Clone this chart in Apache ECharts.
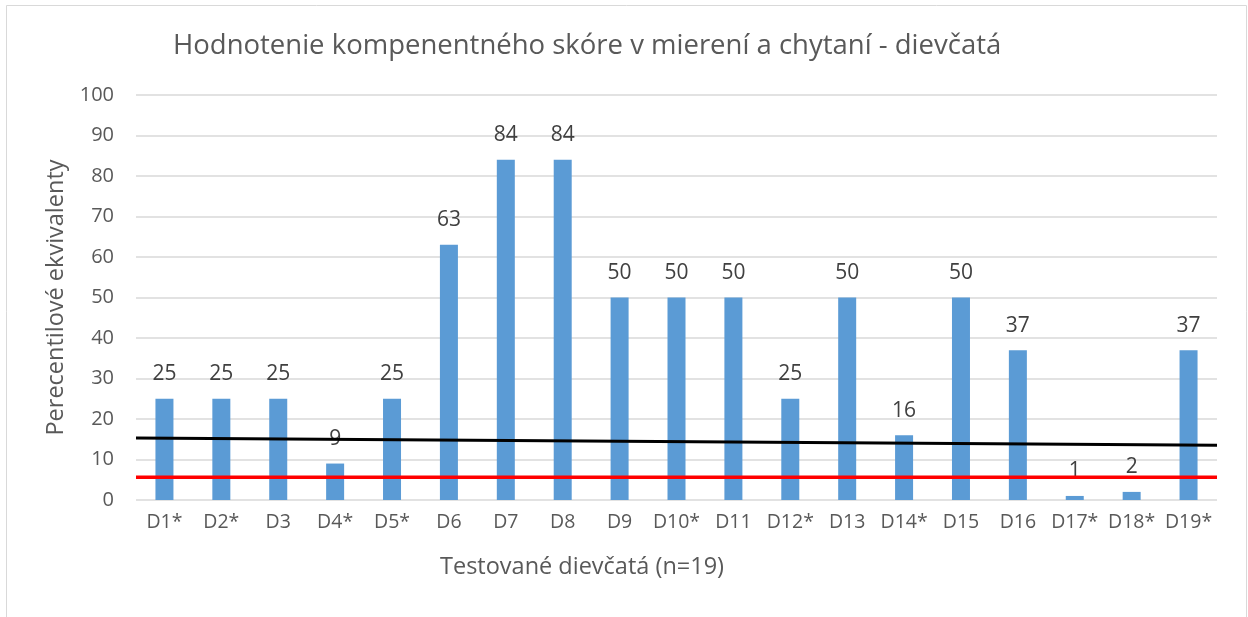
<!DOCTYPE html>
<html>
<head>
<meta charset="utf-8">
<script src="https://cdn.jsdelivr.net/npm/echarts@6/dist/echarts.min.js"></script>
<style>
  html, body { margin: 0; padding: 0; background: #fff; }
  #chart { width: 1248px; height: 617px; }
</style>
</head>
<body>
<div id="chart"></div>
<script>
// kategorie a hodnoty
const categories = ['D1*', 'D2*', 'D3', 'D4*', 'D5*', 'D6', 'D7', 'D8', 'D9', 'D10*',
  'D11', 'D12*', 'D13', 'D14*', 'D15', 'D16', 'D17*', 'D18*', 'D19*'];
const scores = [25, 25, 25, 9, 25, 63, 84, 84, 50, 50, 50, 25, 50, 16, 50, 37, 1, 2, 37];
// ciary (cierna a cervena)
const lineX = [0, 19];
const blackLine = [15.3, 13.5];
const redLine = [5.6, 5.6];

const font = '"Open Sans", "Noto Sans", sans-serif';

const option = {
  animation: false,
  backgroundColor: '#fff',
  title: {
    text: 'Hodnotenie kompenentného skóre v mierení a chytaní - dievčatá',
    left: 168,
    top: 27,
    textStyle: { fontFamily: font, fontSize: 27.5, fontWeight: 'normal', color: '#595959' }
  },
  grid: { left: 136, right: 31, top: 95, bottom: 117 },
  graphic: [
    {
      type: 'rect',
      shape: { x: 6.5, y: 5.5, width: 1240, height: 620 },
      style: { fill: 'none', stroke: '#d9d9d9', lineWidth: 1 },
      silent: true
    },
    {
      type: 'text',
      left: 440,
      top: 555,
      style: { text: 'Testované dievčatá (n=19)', font: '23.5px ' + font, fill: '#595959' }
    }
  ],
  xAxis: [
    {
      type: 'category',
      data: categories,
      axisLine: { show: false },
      axisTick: { show: false },
      axisLabel: { interval: 0, fontFamily: font, fontSize: 19.5, color: '#595959', margin: 12 }
    },
    {
      type: 'value',
      min: 0,
      max: 19,
      show: false
    }
  ],
  yAxis: {
    type: 'value',
    min: 0,
    max: 100,
    interval: 10,
    name: 'Perecentilové ekvivalenty',
    nameLocation: 'middle',
    nameGap: 62,
    nameTextStyle: { fontFamily: font, fontSize: 23.5, color: '#595959' },
    axisLine: { show: false },
    axisTick: { show: false },
    axisLabel: { fontFamily: font, fontSize: 20, color: '#595959', margin: 22 },
    splitLine: { lineStyle: { color: '#d9d9d9', width: 1.5 } }
  },
  series: [
    {
      type: 'bar',
      data: scores,
      barWidth: 18,
      itemStyle: { color: '#5b9bd5' },
      label: {
        show: true,
        position: 'top',
        distance: 14,
        fontFamily: font,
        fontSize: 21,
        color: '#404040'
      },
      z: 2
    },
    {
      type: 'line',
      xAxisIndex: 1,
      data: lineX.map((x, i) => [x, blackLine[i]]),
      symbol: 'none',
      lineStyle: { color: '#000', width: 3 },
      z: 3
    },
    {
      type: 'line',
      xAxisIndex: 1,
      data: lineX.map((x, i) => [x, redLine[i]]),
      symbol: 'none',
      lineStyle: { color: '#ff0000', width: 3.5 },
      z: 3
    }
  ]
};

const myChart = echarts.init(document.getElementById('chart'));
myChart.setOption(option);
</script>
</body>
</html>
